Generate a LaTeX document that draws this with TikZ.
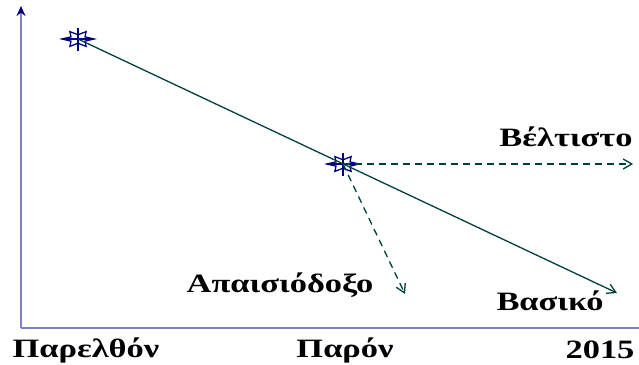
\documentclass[tikz,border=0pt]{standalone}
\usepackage{fontspec}
\setmainfont{Liberation Serif}
\newfontfamily\lblfont{Liberation Serif}[FakeStretch=1.3]
\usetikzlibrary{arrows.meta,shapes.geometric}
\definecolor{axiscol}{RGB}{128,128,196}
\definecolor{trendcol}{RGB}{0,64,64}
\definecolor{markcol}{RGB}{0,0,128}
\tikzset{
  axis/.style={-{Stealth[length=10pt,width=9pt,color=markcol]},axiscol,line width=1.8pt},
  trend/.style={-{Straight Barb[length=3mm,width=3.5mm]},trendcol,line width=1.3pt},
  scenario/.style={-{Straight Barb[length=3mm,width=3.5mm]},trendcol,line width=1.3pt,dash pattern=on 7pt off 5pt},
  marker/.style={star,star points=6,star point ratio=2,shape border rotate=90,minimum size=17pt,xscale=1.9,inner sep=0pt,draw=markcol,line width=1.3pt},
  lbl/.style={font=\lblfont\bfseries\fontsize{26.5}{30}\selectfont,inner sep=0pt}
}

\begin{document}
\begin{tikzpicture}[x=1pt,y=-1pt]
    \useasboundingbox (0,0) rectangle (639,364);
    % axes
    \coordinate (origin) at (21,328);
    \coordinate (ytop) at (21,6);
    \coordinate (xend) at (650,328);
    \draw[axis] (origin) -- (ytop);
    \draw[axis] (origin) -- (xend);
    % markers
    \node[marker] (past) at (78,39) {};
    \node[marker] (now) at (343,164) {};
    \foreach \m in {past,now} {
      \draw[markcol,line width=1.4pt] ([xshift=-16pt]\m.center) -- ([xshift=16pt]\m.center);
      \draw[markcol,line width=1.4pt] ([yshift=-11.5pt]\m.center) -- ([yshift=11.5pt]\m.center);
    }
    % scenarios
    \coordinate (basic) at (617,293);
    \coordinate (best) at (633,164);
    \coordinate (worst) at (405,294);
    \draw[trend] (past.center) -- (basic);
    \draw[scenario] (now.center) -- (best);
    \draw[scenario] (now.center) -- (worst);
    % labels
    \node[lbl] (bestlbl) at (566,137) {Βέλτιστο};
    \node[lbl] (worstlbl) at (280,285) {Απαισιόδοξο};
    \node[lbl] (basiclbl) at (550,301) {Βασικό};
    \node[lbl] (pastlbl) at (86,350) {Παρελθόν};
    \node[lbl] (nowlbl) at (345,350) {Παρόν};
    \node[lbl] (yearlbl) at (600,350) {2015};
  \end{tikzpicture}
\end{document}
